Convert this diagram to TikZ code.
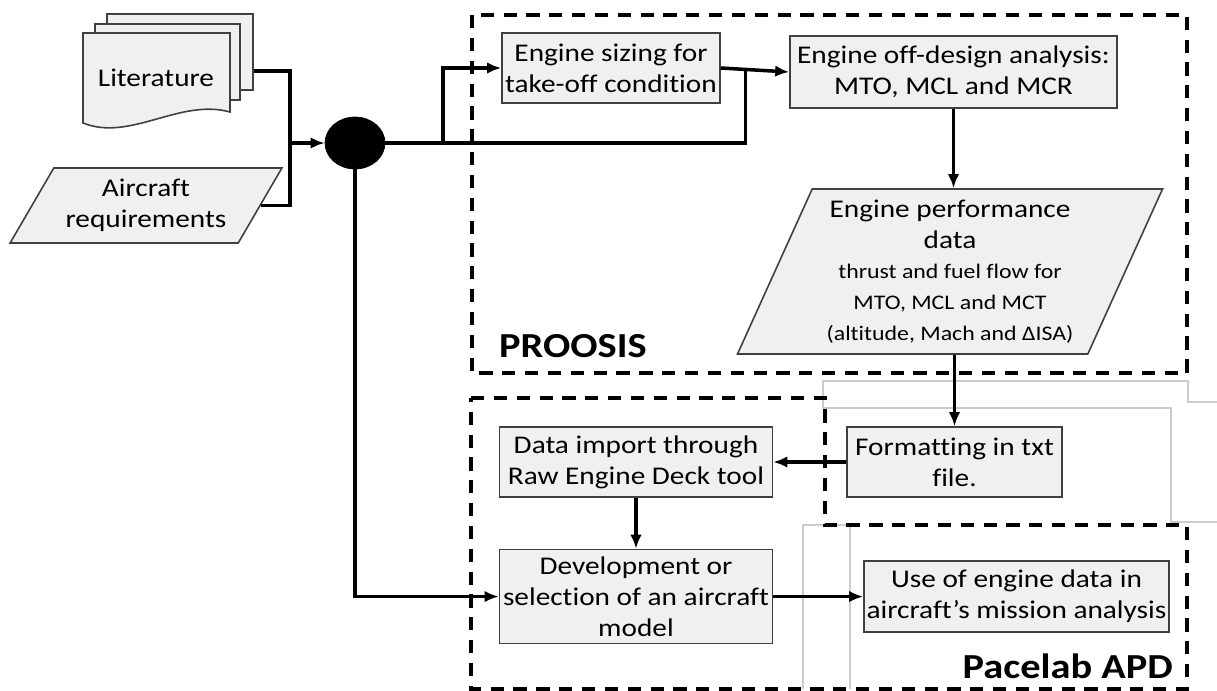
\documentclass[tikz,border=0pt]{standalone}
\usepackage{fontspec}
\setmainfont{Carlito}[FakeStretch=1.15, Ligatures=NoCommon]
\usetikzlibrary{arrows, arrows.meta, shapes, shapes.geometric, positioning, calc}

\begin{document}
\begin{tikzpicture}[x=0.02cm, y=-0.02cm,
    box/.style={rectangle, draw=black!75, fill=black!6, line width=0.9pt, align=center, inner sep=1pt, font=\fontsize{14.5}{17.5}\selectfont},
    iobox/.style={trapezium, trapezium stretches=true, draw=black!75, fill=black!6, line width=0.9pt, align=center, inner sep=0pt, font=\fontsize{14.5}{17.5}\selectfont},
    sheet/.style={draw=black!75, fill=black!6, line width=0.9pt, inner sep=0pt},
    toolframe/.style={line width=2.1pt, dash pattern=on 7.5pt off 5.5pt},
    wire/.style={line width=2pt},
    flow/.style={wire, -{Latex[length=8pt, width=6.5pt]}},
    ghost/.style={draw=black!20, line width=0.6pt},
    tool/.style={font=\fontsize{20}{24}\selectfont\bfseries}]
    \useasboundingbox (0,0) rectangle (1217,690);
    % leftover panels
    \draw[ghost] (823,408) -- (823,381) -- (1188,381) -- (1188,402) -- (1217,402);
    \draw[ghost] (823,408) -- (1171,408) -- (1171,522) -- (1217,522);
    \draw[ghost] (803,689) -- (803,525) -- (850,525) -- (850,689);
    % tool frames
    \draw[toolframe] (472,15) rectangle (1187,373);
    \draw[toolframe] (471,398) -- (825,398) -- (825,525) -- (1187,525) -- (1187,689) -- (471,689) -- cycle;

    % inputs
    \node[sheet, minimum width=2.92cm, minimum height=1.52cm] (litback) at (180,52) {};
    \node[sheet, minimum width=2.9cm, minimum height=1.52cm] (litmid) at (167.5,62) {};
    \draw[sheet] (83,33) -- (230,33) -- (230,112) .. controls (180,98) and (130,142) .. (83,123) -- cycle;
    \node[font=\fontsize{14.5}{17.5}\selectfont] (lit) at (156,78) {Literature};
    \node[iobox, trapezium left angle=54, trapezium right angle=126, minimum width=5.44cm, minimum height=1.5cm] (acreq) at (146,205.5) {Aircraft\\requirements};
    \node[ellipse, draw, fill=black, minimum width=1.2cm, minimum height=1.04cm] (hub) at (355,143) {};
    \coordinate (merge) at (290,143);
    \coordinate (split) at (443,143);

    % PROOSIS
    \node[box, minimum width=4.36cm, minimum height=1.4cm] (sizing) at (611,68) {Engine sizing for\\take-off condition};
    \node[box, minimum width=6.54cm, minimum height=1.44cm] (offd) at (953.5,72) {Engine off-design analysis:\\MTO, MCL and MCR};
    \node[iobox, trapezium left angle=65, trapezium right angle=115, minimum width=8.52cm, minimum height=3.3cm] (perf) at (950,271.5) {Engine performance\\data\\
        \fontsize{11.8}{14.5}\selectfont thrust and fuel flow for\\
        \fontsize{11.8}{14.5}\selectfont MTO, MCL and MCT\\
        \fontsize{11.8}{14.5}\selectfont (altitude, Mach and ΔISA)};
    \node[tool, anchor=base west] (proosis) at (493,357) {PROOSIS};

    % Pacelab APD
    \node[box, minimum width=4.3cm, minimum height=1.4cm] (fmt) at (954.5,462) {Formatting in txt\\file.};
    \node[box, minimum width=5.46cm, minimum height=1.4cm, left=1.46cm of fmt] (imp) {Data import through\\Raw Engine Deck tool};
    \node[box, minimum width=5.46cm, minimum height=1.88cm, below=1.02cm of imp] (dev) {Development or\\selection of an aircraft\\model};
    \node[box, minimum width=6.1cm, minimum height=1.42cm, right=1.8cm of dev] (use) {Use of engine data in\\aircraft’s mission analysis};
    \node[tool, anchor=base east] (pacelab) at (1179,678) {Pacelab APD};

    % connectors
    \draw[wire] ([yshift=0.4cm]litback.south east) -| (merge);
    \draw[wire] (acreq.east) -| (merge);
    \draw[flow] (merge) -- (hub);
    \draw[wire] (hub.east) -| ($(sizing.east)!0.36!(offd.west)$);
    \draw[flow] (split) |- (sizing.west);
    \draw[flow] (sizing.east) -- (offd.west);
    \draw[flow] (offd.south) -- (offd.south |- perf.north);
    \draw[flow] (fmt.north |- perf.south) -- (fmt.north);
    \draw[flow] (fmt.west) -- (imp.east);
    \draw[flow] (imp.south) -- (dev.north);
    \draw[flow] (hub.south) |- (dev.west);
    \draw[flow] (dev.east) -- (use.west);
\end{tikzpicture}
\end{document}
